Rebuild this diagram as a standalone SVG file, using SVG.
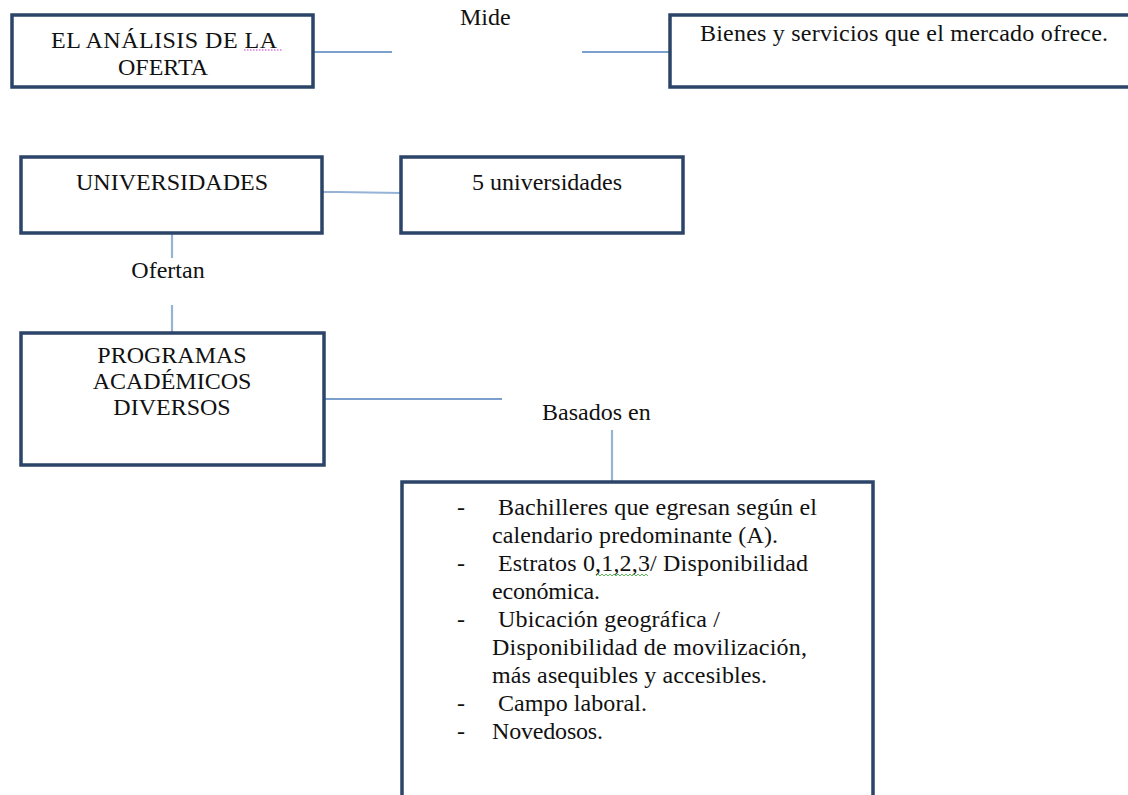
<svg xmlns="http://www.w3.org/2000/svg" width="1128" height="795" viewBox="0 0 1128 795">
<style>
.box{fill:#ffffff;stroke:#2b4468;stroke-width:3.5}
.t{font-family:"Liberation Serif","Times New Roman",Tinos,"DejaVu Serif",serif;font-size:24px;fill:#111111}
.c{text-anchor:middle}
.dark{stroke:#4f81bd;stroke-width:1.6;fill:none}
.light{stroke:#95b3d7;stroke-width:2.2;fill:none}
</style>
<rect width="1128" height="795" fill="#ffffff"/>
<g id="connectors">
<line class="dark" x1="313" y1="52" x2="392" y2="52"/>
<line class="dark" x1="582" y1="52" x2="670" y2="52"/>
<polyline class="light" points="322,192 338,192 401,193"/>
<line class="light" x1="172" y1="233" x2="172" y2="258"/>
<line class="light" x1="172" y1="305" x2="172" y2="333"/>
<line class="dark" x1="324" y1="399" x2="502" y2="399"/>
<line class="light" x1="612" y1="430" x2="612" y2="482"/>
</g>
<g id="n-analisis">
<rect class="box" x="12" y="15" width="301" height="72"/>
<text class="t c" x="164" y="48" textLength="226" lengthAdjust="spacing">EL ANÁLISIS DE LA</text>
<text class="t c" x="163" y="75">OFERTA</text>
<line x1="244" y1="50" x2="282" y2="50" stroke="#cc33cc" stroke-width="1" stroke-dasharray="1.5,1.5"/>
</g>
<g id="l-mide">
<text class="t" x="460" y="25">Mide</text>
</g>
<g id="n-bienes">
<rect class="box" x="670" y="15" width="470" height="72"/>
<text class="t" x="700" y="41" textLength="408" lengthAdjust="spacing">Bienes y servicios que el mercado ofrece.</text>
</g>
<g id="n-universidades">
<rect class="box" x="21" y="157" width="301" height="76"/>
<text class="t c" x="172" y="190">UNIVERSIDADES</text>
</g>
<g id="n-5univ">
<rect class="box" x="401" y="157" width="282" height="76"/>
<text class="t c" x="547" y="190">5 universidades</text>
</g>
<g id="l-ofertan">
<text class="t c" x="168" y="278">Ofertan</text>
</g>
<g id="n-programas">
<rect class="box" x="21" y="333" width="303" height="132"/>
<text class="t c" x="172" y="363">PROGRAMAS</text>
<text class="t c" x="172" y="389">ACADÉMICOS</text>
<text class="t c" x="172" y="415">DIVERSOS</text>
</g>
<g id="l-basados">
<text class="t" x="542" y="420">Basados en</text>
</g>
<g id="n-lista">
<rect class="box" x="402" y="482" width="471" height="330"/>
<text class="t" x="457" y="515">-</text>
<text class="t" x="498" y="515" textLength="319" lengthAdjust="spacing">Bachilleres que egresan según el</text>
<text class="t" x="492" y="543" textLength="286" lengthAdjust="spacing">calendario predominante (A).</text>
<text class="t" x="457" y="571">-</text>
<text class="t" x="498" y="571" textLength="310" lengthAdjust="spacing">Estratos 0,1,2,3/ Disponibilidad</text>
<path d="M596,576 l2,-2 l2,2 l2,-2 l2,2 l2,-2 l2,2 l2,-2 l2,2 l2,-2 l2,2 l2,-2 l2,2 l2,-2 l2,2 l2,-2 l2,2 l2,-2 l2,2 l2,-2 l2,2 l2,-2 l2,2 l2,-2 l2,2 l2,-2 l2,2" fill="none" stroke="#33aa33" stroke-width="0.8"/>
<text class="t" x="492" y="599" textLength="108" lengthAdjust="spacing">económica.</text>
<text class="t" x="457" y="627">-</text>
<text class="t" x="498" y="627" textLength="222" lengthAdjust="spacing">Ubicación geográfica /</text>
<text class="t" x="492" y="655" textLength="315" lengthAdjust="spacing">Disponibilidad de movilización,</text>
<text class="t" x="492" y="683" textLength="275" lengthAdjust="spacing">más asequibles y accesibles.</text>
<text class="t" x="457" y="711">-</text>
<text class="t" x="498" y="711" textLength="149" lengthAdjust="spacing">Campo laboral.</text>
<text class="t" x="457" y="739">-</text>
<text class="t" x="492" y="739" textLength="111" lengthAdjust="spacing">Novedosos.</text>
</g>
</svg>
